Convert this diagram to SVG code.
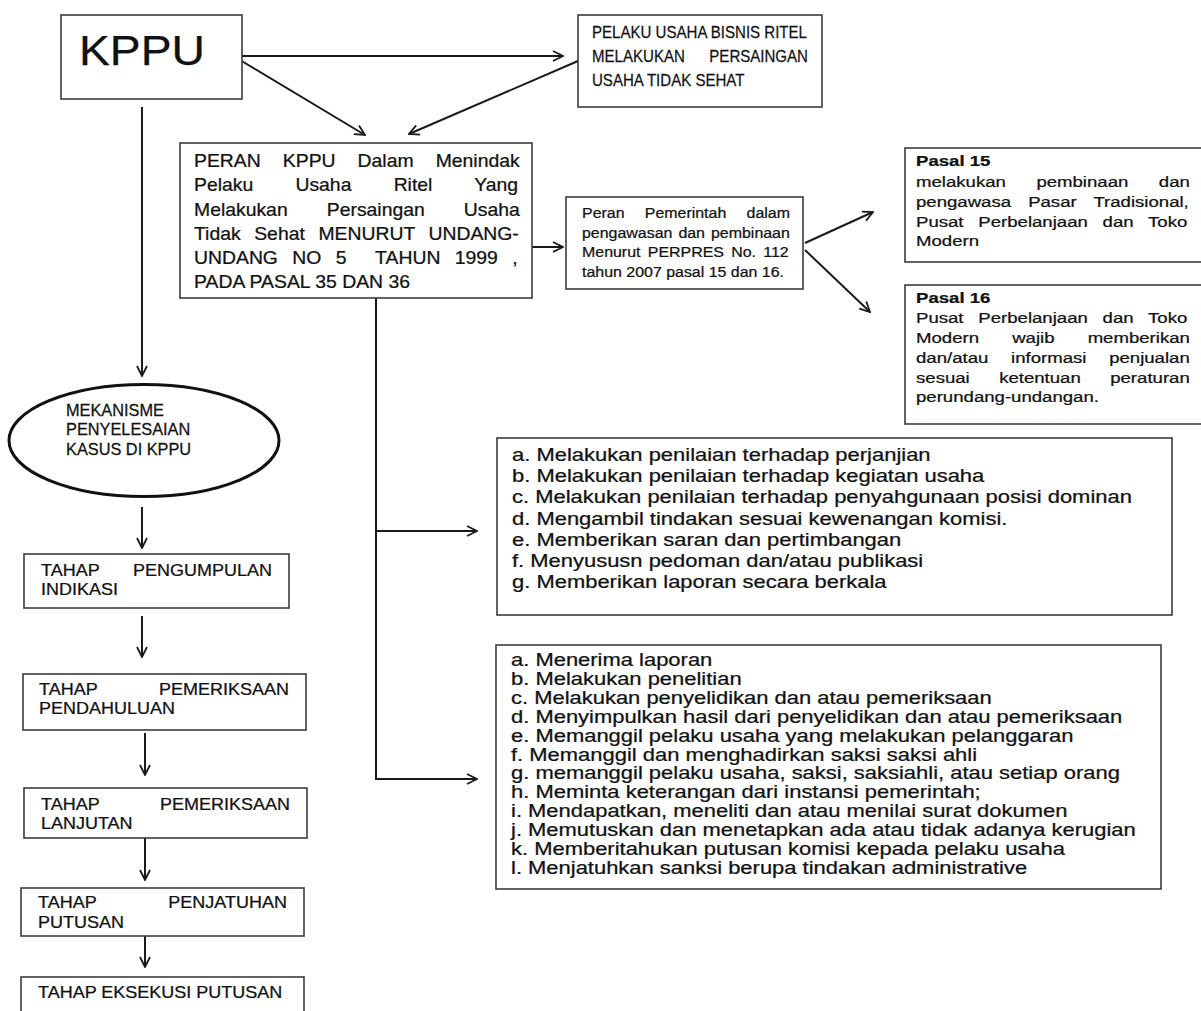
<svg xmlns="http://www.w3.org/2000/svg" width="1201" height="1011" viewBox="0 0 1201 1011">
<style>
.box{fill:#fff;stroke:#3c3c3c;stroke-width:1.6}
.ell{fill:#fff;stroke:#111;stroke-width:3}
.t{font-family:"Liberation Sans",Arial,sans-serif;fill:#111;stroke:#111;stroke-width:0.25}
.b{font-weight:bold}
.conn{stroke:#1a1a1a;stroke-width:2;fill:none}
</style>
<defs>
<marker id="ah" viewBox="0 0 12 12" refX="11" refY="6" markerWidth="12" markerHeight="12" markerUnits="userSpaceOnUse" orient="auto">
<path d="M1,1 L11,6 L1,11" fill="none" stroke="#1a1a1a" stroke-width="1.8"/>
</marker>
</defs>
<rect width="1201" height="1011" fill="#fff"/>

<g id="connectors">
<line class="conn" x1="242" y1="56" x2="563" y2="56" marker-end="url(#ah)"/>
<line class="conn" x1="240" y1="60" x2="365" y2="135" marker-end="url(#ah)"/>
<line class="conn" x1="578" y1="61" x2="409" y2="134" marker-end="url(#ah)"/>
<line class="conn" x1="142" y1="107" x2="142" y2="376" marker-end="url(#ah)"/>
<line class="conn" x1="142" y1="507" x2="142" y2="548" marker-end="url(#ah)"/>
<line class="conn" x1="142" y1="616" x2="142" y2="657" marker-end="url(#ah)"/>
<line class="conn" x1="145" y1="733" x2="145" y2="775" marker-end="url(#ah)"/>
<line class="conn" x1="145" y1="838" x2="145" y2="880" marker-end="url(#ah)"/>
<line class="conn" x1="145" y1="936" x2="145" y2="967" marker-end="url(#ah)"/>
<line class="conn" x1="532" y1="247" x2="563" y2="247" marker-end="url(#ah)"/>
<line class="conn" x1="805" y1="243" x2="873" y2="212" marker-end="url(#ah)"/>
<line class="conn" x1="805" y1="250" x2="870" y2="312" marker-end="url(#ah)"/>
<polyline class="conn" points="376,298 376,779 477,779" marker-end="url(#ah)"/>
<line class="conn" x1="376" y1="531" x2="477" y2="531" marker-end="url(#ah)"/>
</g>

<g id="kppu">
<rect class="box" x="61" y="15" width="181" height="84"/>
<text class="t" x="79" y="65" font-size="43" textLength="126" lengthAdjust="spacingAndGlyphs">KPPU</text>
</g>

<g id="pelaku">
<rect class="box" x="578" y="15" width="244" height="92"/>
<g transform="translate(592,0) scale(0.886,1)">
<text class="t" font-size="17" x="0" y="38">PELAKU USAHA BISNIS RITEL</text>
<text class="t" font-size="17" x="0" y="62">MELAKUKAN</text>
<text class="t" font-size="17" x="243.8" y="62" text-anchor="end">PERSAINGAN</text>
<text class="t" font-size="17" x="0" y="86">USAHA TIDAK SEHAT</text>
</g>
</g>

<g id="peran">
<rect class="box" x="180" y="143" width="352" height="155"/>
<g transform="translate(194,0) scale(1.077,1)">
<text class="t" font-size="18" x="0" y="167" style="word-spacing:15.5px">PERAN KPPU Dalam Menindak</text>
<text class="t" font-size="18" x="0" y="191" style="word-spacing:34.2px">Pelaku Usaha Ritel Yang</text>
<text class="t" font-size="18" x="0" y="216" style="word-spacing:31.3px">Melakukan Persaingan Usaha</text>
<text class="t" font-size="18" x="0" y="240" style="word-spacing:7.6px">Tidak Sehat MENURUT UNDANG-</text>
<text class="t" font-size="18" x="0" y="264" style="word-spacing:8.4px" xml:space="preserve">UNDANG NO 5  TAHUN 1999 ,</text>
<text class="t" font-size="18" x="0" y="288">PADA PASAL 35 DAN 36</text>
</g>
</g>

<g id="peran-pemerintah">
<rect class="box" x="566" y="197" width="237" height="92"/>
<g transform="translate(582,0) scale(1.063,1)">
<text class="t" font-size="15" x="0" y="218" style="word-spacing:14.9px">Peran Pemerintah dalam</text>
<text class="t" font-size="15" x="0" y="238" style="word-spacing:1.5px">pengawasan dan pembinaan</text>
<text class="t" font-size="15" x="0" y="257" style="word-spacing:2.7px">Menurut PERPRES No. 112</text>
<text class="t" font-size="15" x="0" y="277">tahun 2007 pasal 15 dan 16.</text>
</g>
</g>

<g id="pasal15">
<rect class="box" x="905" y="148" width="312" height="114"/>
<g transform="translate(916,0) scale(1.2,1)">
<text class="t b" font-size="15.5" x="0" y="166">Pasal 15</text>
<text class="t" font-size="15.5" x="0" y="187" style="word-spacing:21.1px">melakukan pembinaan dan</text>
<text class="t" font-size="15.5" x="0" y="207" style="word-spacing:9.9px">pengawasa Pasar Tradisional,</text>
<text class="t" font-size="15.5" x="0" y="227" style="word-spacing:8px">Pusat Perbelanjaan dan Toko</text>
<text class="t" font-size="15.5" x="0" y="246">Modern</text>
</g>
</g>

<g id="pasal16">
<rect class="box" x="905" y="285" width="312" height="139"/>
<g transform="translate(916,0) scale(1.2,1)">
<text class="t b" font-size="15.5" x="0" y="303">Pasal 16</text>
<text class="t" font-size="15.5" x="0" y="323" style="word-spacing:8px">Pusat Perbelanjaan dan Toko</text>
<text class="t" font-size="15.5" x="0" y="343" style="word-spacing:23.3px">Modern wajib memberikan</text>
<text class="t" font-size="15.5" x="0" y="363" style="word-spacing:14.6px">dan/atau informasi penjualan</text>
<text class="t" font-size="15.5" x="0" y="383" style="word-spacing:20.2px">sesuai ketentuan peraturan</text>
<text class="t" font-size="15.5" x="0" y="402">perundang-undangan.</text>
</g>
</g>

<g id="mekanisme">
<ellipse class="ell" cx="144" cy="440.5" rx="135" ry="56"/>
<g transform="translate(66,0) scale(1.02,1)">
<text class="t" font-size="16" x="0" y="416">MEKANISME</text>
<text class="t" font-size="16" x="0" y="435">PENYELESAIAN</text>
<text class="t" font-size="16" x="0" y="455">KASUS DI KPPU</text>
</g>
</g>

<g id="tahap1">
<rect class="box" x="24" y="554" width="265" height="54"/>
<g transform="translate(41,0) scale(1.125,1)">
<text class="t" font-size="16" x="0" y="576">TAHAP</text>
<text class="t" font-size="16" x="205.3" y="576" text-anchor="end">PENGUMPULAN</text>
<text class="t" font-size="16" x="0" y="595">INDIKASI</text>
</g>
</g>

<g id="tahap2">
<rect class="box" x="23" y="674" width="283" height="56"/>
<g transform="translate(39,0) scale(1.125,1)">
<text class="t" font-size="16" x="0" y="695">TAHAP</text>
<text class="t" font-size="16" x="222.2" y="695" text-anchor="end">PEMERIKSAAN</text>
<text class="t" font-size="16" x="0" y="714">PENDAHULUAN</text>
</g>
</g>

<g id="tahap3">
<rect class="box" x="24" y="788" width="283" height="50"/>
<g transform="translate(41,0) scale(1.125,1)">
<text class="t" font-size="16" x="0" y="810">TAHAP</text>
<text class="t" font-size="16" x="221.3" y="810" text-anchor="end">PEMERIKSAAN</text>
<text class="t" font-size="16" x="0" y="829">LANJUTAN</text>
</g>
</g>

<g id="tahap4">
<rect class="box" x="21" y="888" width="283" height="48"/>
<g transform="translate(38,0) scale(1.125,1)">
<text class="t" font-size="16" x="0" y="908">TAHAP</text>
<text class="t" font-size="16" x="221.3" y="908" text-anchor="end">PENJATUHAN</text>
<text class="t" font-size="16" x="0" y="928">PUTUSAN</text>
</g>
</g>

<g id="tahap5">
<rect class="box" x="21" y="977" width="283" height="50"/>
<g transform="translate(38,0) scale(1.125,1)">
<text class="t" font-size="16" x="0" y="998">TAHAP EKSEKUSI PUTUSAN</text>
</g>
</g>

<g id="list1">
<rect class="box" x="497" y="438" width="675" height="177"/>
<g transform="translate(512,0) scale(1.2,1)">
<text class="t" font-size="18.3" x="0" y="461">a. Melakukan penilaian terhadap perjanjian</text>
<text class="t" font-size="18.3" x="0" y="482">b. Melakukan penilaian terhadap kegiatan usaha</text>
<text class="t" font-size="18.3" x="0" y="503">c. Melakukan penilaian terhadap penyahgunaan posisi dominan</text>
<text class="t" font-size="18.3" x="0" y="525">d. Mengambil tindakan sesuai kewenangan komisi.</text>
<text class="t" font-size="18.3" x="0" y="546">e. Memberikan saran dan pertimbangan</text>
<text class="t" font-size="18.3" x="0" y="567">f. Menyususn pedoman dan/atau publikasi</text>
<text class="t" font-size="18.3" x="0" y="588">g. Memberikan laporan secara berkala</text>
</g>
</g>

<g id="list2">
<rect class="box" x="496" y="645" width="665" height="244"/>
<g transform="translate(511,0) scale(1.2,1)">
<text class="t" font-size="18.3" x="0" y="666">a. Menerima laporan</text>
<text class="t" font-size="18.3" x="0" y="685">b. Melakukan penelitian</text>
<text class="t" font-size="18.3" x="0" y="704">c. Melakukan penyelidikan dan atau pemeriksaan</text>
<text class="t" font-size="18.3" x="0" y="723">d. Menyimpulkan hasil dari penyelidikan dan atau pemeriksaan</text>
<text class="t" font-size="18.3" x="0" y="742">e. Memanggil pelaku usaha yang melakukan pelanggaran</text>
<text class="t" font-size="18.3" x="0" y="761">f. Memanggil dan menghadirkan saksi saksi ahli</text>
<text class="t" font-size="18.3" x="0" y="779">g. memanggil pelaku usaha, saksi, saksiahli, atau setiap orang</text>
<text class="t" font-size="18.3" x="0" y="798">h. Meminta keterangan dari instansi pemerintah;</text>
<text class="t" font-size="18.3" x="0" y="817">i. Mendapatkan, meneliti dan atau menilai surat dokumen</text>
<text class="t" font-size="18.3" x="0" y="836">j. Memutuskan dan menetapkan ada atau tidak adanya kerugian</text>
<text class="t" font-size="18.3" x="0" y="855">k. Memberitahukan putusan komisi kepada pelaku usaha</text>
<text class="t" font-size="18.3" x="0" y="874">l. Menjatuhkan sanksi berupa tindakan administrative</text>
</g>
</g>
</svg>
